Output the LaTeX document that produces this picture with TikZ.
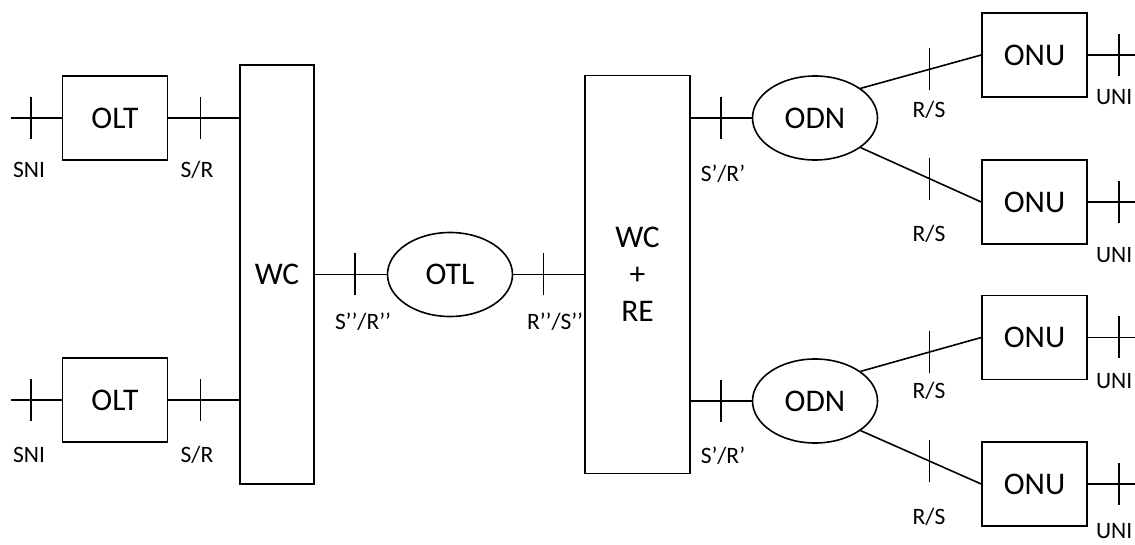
\documentclass[tikz,border=0pt]{standalone}
\usepackage{fontspec}
\setmainfont{Carlito}
\usetikzlibrary{shapes.geometric,calc}

\begin{document}
\begin{tikzpicture}[x=1pt,y=1pt,line width=1.6pt,
	box node/.style={rectangle,draw,minimum width=105pt,minimum height=84pt,font=\fontsize{31.5}{37}\selectfont},
	oval node/.style={ellipse,draw,minimum width=125pt,minimum height=84pt,font=\fontsize{31.5}{37}\selectfont},
	ref label/.style={anchor=base,inner sep=0pt,font=\fontsize{23.5}{27}\selectfont}]
	\useasboundingbox (0,0) rectangle (1135,544);

	\node[box node] (olt1) at (115,426) {OLT};
	\node[box node] (olt2) [node distance=282pt,below of=olt1] {OLT};
	\node[box node,minimum width=74pt,minimum height=419pt] (wc) at (277,269.5) {WC};
	\node[oval node] (otl) [node distance=173pt,right of=wc] {OTL};
	\node[box node,minimum height=398pt,align=center] (wcre) [node distance=187.5pt,right of=otl] {WC\\+\\RE};
	\node[oval node] (odn1) at (815,426) {ODN};
	\node[oval node] (odn2) [node distance=283pt,below of=odn1] {ODN};
	\node[box node] (onu1) at (1034.5,489) {ONU};
	\node[box node] (onu2) [node distance=147pt,below of=onu1] {ONU};
	\node[box node] (onu3) [node distance=135.5pt,below of=onu2] {ONU};
	\node[box node] (onu4) [node distance=146.5pt,below of=onu3] {ONU};

	% free line ends
	\coordinate[node distance=104pt,left of=olt1] (sni1);
	\coordinate[node distance=104pt,left of=olt2] (sni2);
	\coordinate[node distance=100.5pt,right of=onu1] (uni1);
	\coordinate[node distance=100.5pt,right of=onu2] (uni2);
	\coordinate[node distance=100.5pt,right of=onu3] (uni3);
	\coordinate[node distance=100.5pt,right of=onu4] (uni4);

	\path
	(sni1) edge (olt1)
	(sni2) edge (olt2)
	(olt1) edge (olt1 -| wc.west)
	(olt2) edge (olt2 -| wc.west)
	(wc) edge (otl)
	(otl) edge (wcre)
	(odn1 -| wcre.east) edge (odn1)
	(odn2 -| wcre.east) edge (odn2)
	(odn1.33) edge (onu1.west)
	(odn1.-33) edge (onu2.west)
	(odn2.33) edge (onu3.west)
	(odn2.-33) edge (onu4.west)
	(onu1) edge (uni1)
	(onu2) edge (uni2)
	(onu3) edge (uni3)
	(onu4) edge (uni4);

	% reference point ticks
	\draw
	(olt1.west) ++(-31,-21) -- ++(0,42)
	(olt2.west) ++(-31,-21) -- ++(0,42)
	(olt1.east) ++(32,-21) -- ++(0,42)
	(olt2.east) ++(32,-21) -- ++(0,42)
	(otl.west) ++(-32,-21) -- ++(0,42)
	(otl.east) ++(30,-21) -- ++(0,42)
	(odn1.west) ++(-31,-21) -- ++(0,42)
	(odn2.west) ++(-31,-21) -- ++(0,42)
	($(odn1.33)!0.57!(onu1.west)$) ++(0,-21) -- ++(0,42)
	($(odn1.-33)!0.57!(onu2.west)$) ++(0,-21) -- ++(0,42)
	($(odn2.33)!0.57!(onu3.west)$) ++(0,-21) -- ++(0,42)
	($(odn2.-33)!0.57!(onu4.west)$) ++(0,-21) -- ++(0,42)
	(onu1.east) ++(31,-21) -- ++(0,42)
	(onu2.east) ++(31,-21) -- ++(0,42)
	(onu3.east) ++(31,-21) -- ++(0,42)
	(onu4.east) ++(31,-21) -- ++(0,42);

	\node[ref label] (sni1 text) at (29,366) {SNI};
	\node[ref label] (sr1 text) at (197,366) {S/R};
	\node[ref label] (sni2 text) at (29,82) {SNI};
	\node[ref label] (sr2 text) at (197,82) {S/R};
	\node[ref label] (srpp text) at (363,214) {S’’/R’’};
	\node[ref label] (rspp text) at (555,214) {R’’/S’’};
	\node[ref label] (srp1 text) at (723,362) {S’/R’};
	\node[ref label] (srp2 text) at (723,81) {S’/R’};
	\node[ref label] (rs1 text) at (929,426.5) {R/S};
	\node[ref label] (rs2 text) at (929,302) {R/S};
	\node[ref label] (rs3 text) at (929,146) {R/S};
	\node[ref label] (rs4 text) at (929,20) {R/S};
	\node[ref label,anchor=base east] (uni1 text) at (1133,439) {UNI};
	\node[ref label,anchor=base east] (uni2 text) at (1133,281) {UNI};
	\node[ref label,anchor=base east] (uni3 text) at (1133,156) {UNI};
	\node[ref label,anchor=base east] (uni4 text) at (1133,5.5) {UNI};
\end{tikzpicture}
\end{document}
